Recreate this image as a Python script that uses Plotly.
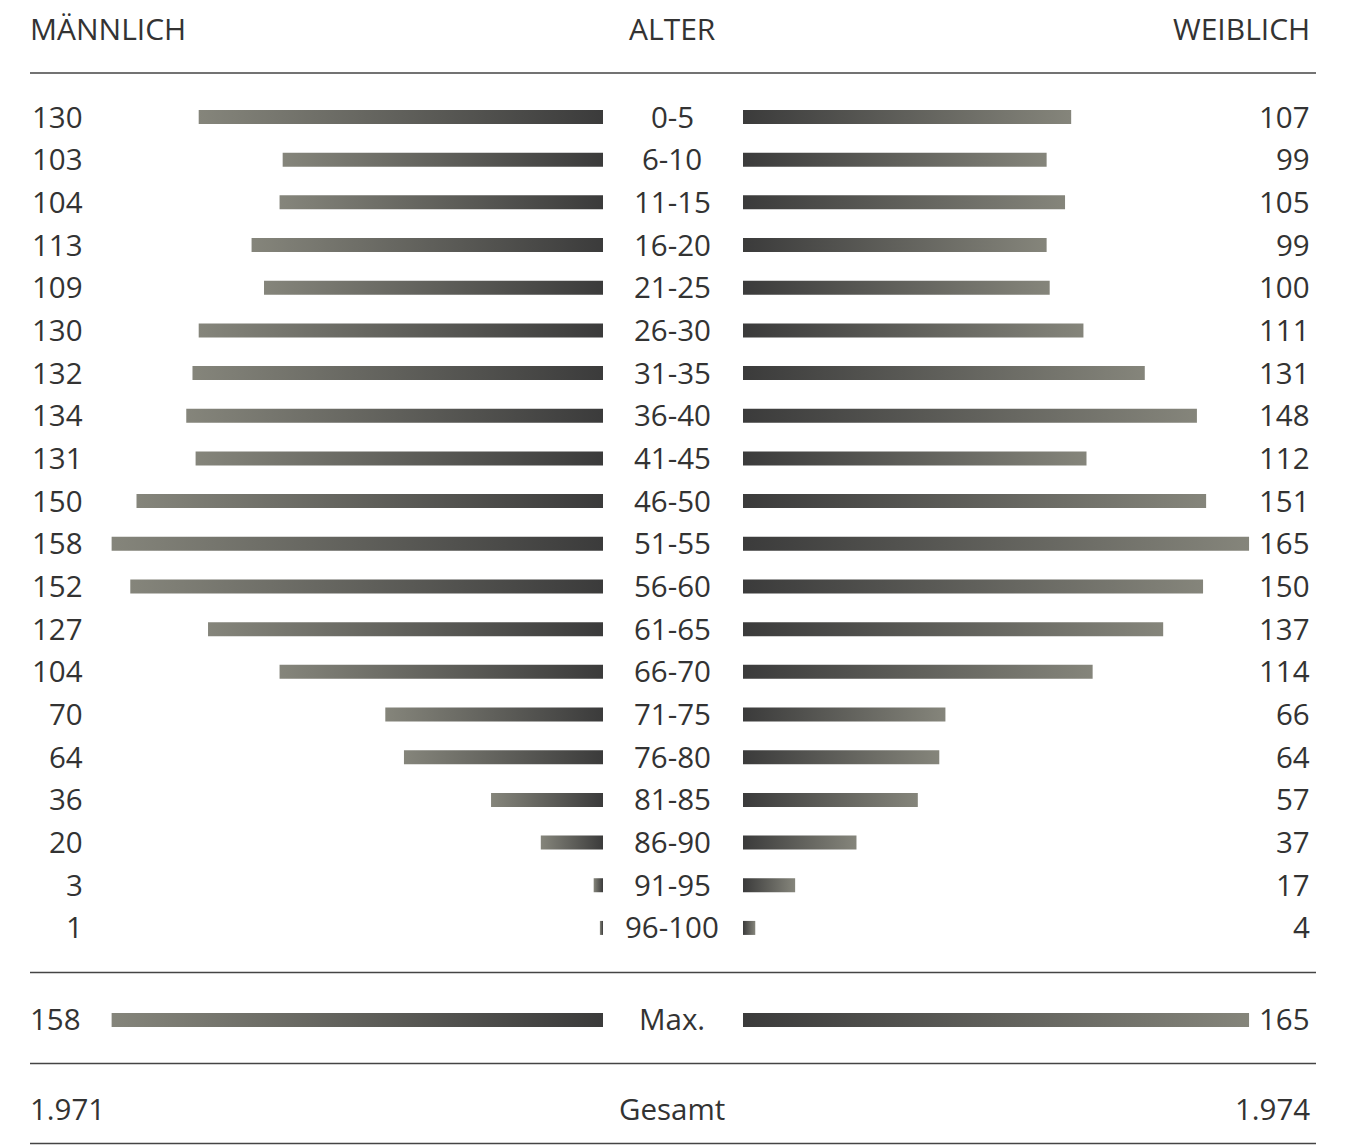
import plotly.graph_objects as go

# ---- data ----
age_groups = ["0-5", "6-10", "11-15", "16-20", "21-25", "26-30", "31-35", "36-40",
              "41-45", "46-50", "51-55", "56-60", "61-65", "66-70", "71-75", "76-80",
              "81-85", "86-90", "91-95", "96-100"]
male = [130, 103, 104, 113, 109, 130, 132, 134, 131, 150, 158, 152, 127, 104, 70, 64, 36, 20, 3, 1]
female = [107, 99, 105, 99, 100, 111, 131, 148, 112, 151, 165, 150, 137, 114, 66, 64, 57, 37, 17, 4]
header_left = "MÄNNLICH"
header_mid = "ALTER"
header_right = "WEIBLICH"
max_label = "Max."
total_label = "Gesamt"
total_male = "1.971"
total_female = "1.974"

# ---- style / layout constants ----
W, H = 1345, 1147
DARK = "#3b3b3b"
LIGHT = "#85857b"
TEXT = "#333333"
FONT = "Open Sans"
ROW0, ROWSTEP = 117, 42.68
BAR_H = 14
MAX_Y = 1020
TOTAL_Y = 1109
LINES_Y = [73, 972.5, 1063.5, 1143.5]
LEFT_END, RIGHT_START = 603, 743
LEFT_PX, RIGHT_PX = 3.11, 3.067

fig = go.Figure()


def add_bar(value, yc, axis):
    xs = [0, value, value, 0, 0]
    ys = [yc - BAR_H / 2, yc - BAR_H / 2, yc + BAR_H / 2, yc + BAR_H / 2, yc - BAR_H / 2]
    # gradient runs left-to-right in screen space; dark end always at the centre
    cs = [[0, LIGHT], [1, DARK]] if axis == "x" else [[0, DARK], [1, LIGHT]]
    fig.add_trace(go.Scatter(
        x=xs, y=ys, xaxis=axis, yaxis="y", mode="lines", line=dict(width=0),
        fill="toself",
        fillgradient=dict(type="horizontal", colorscale=cs),
        hoverinfo="skip", showlegend=False,
    ))


def txt(x, y, s, anchor, size=29.5):
    fig.add_annotation(x=x / W, y=y, xref="paper", yref="y", text=s, showarrow=False,
                       xanchor=anchor, yanchor="middle",
                       font=dict(family=FONT, size=size, color=TEXT, weight=400))


rows_y = [ROW0 + i * ROWSTEP for i in range(len(age_groups))]
for i, yc in enumerate(rows_y):
    add_bar(male[i], yc, "x")
    add_bar(female[i], yc, "x2")
    txt(85, yc - 1, str(male[i]), "right")
    txt(672, yc - 1, age_groups[i], "center")
    txt(1312, yc - 1, str(female[i]), "right")

mmax, fmax = max(male), max(female)
add_bar(mmax, MAX_Y, "x")
add_bar(fmax, MAX_Y, "x2")
txt(28, MAX_Y - 2, str(mmax), "left")
txt(672, MAX_Y - 2, max_label, "center")
txt(1312, MAX_Y - 2, str(fmax), "right")

txt(28, TOTAL_Y - 1, total_male, "left")
txt(672, TOTAL_Y - 1, total_label, "center")
txt(1312, TOTAL_Y - 1, total_female, "right")

txt(28, 28, header_left, "left", 30)
txt(672, 28, header_mid, "center", 30)
txt(1312, 28, header_right, "right", 30)

for ly in LINES_Y:
    fig.add_shape(type="line", xref="paper", yref="y", x0=30 / W, x1=1316 / W, y0=ly, y1=ly,
                  line=dict(color="#444444", width=1.5))

fig.update_layout(
    width=W, height=H, margin=dict(l=0, r=0, t=0, b=0),
    paper_bgcolor="white", plot_bgcolor="white",
    xaxis=dict(domain=[0, LEFT_END / W], range=[LEFT_END / LEFT_PX, 0], visible=False, fixedrange=True),
    xaxis2=dict(domain=[RIGHT_START / W, 1], range=[0, (W - RIGHT_START) / RIGHT_PX], visible=False,
                anchor="y", fixedrange=True),
    yaxis=dict(domain=[0, 1], range=[H, 0], visible=False, fixedrange=True),
)

fig.write_html("out.html", config={"displayModeBar": False},
               post_script="document.body.style.margin='0';")
